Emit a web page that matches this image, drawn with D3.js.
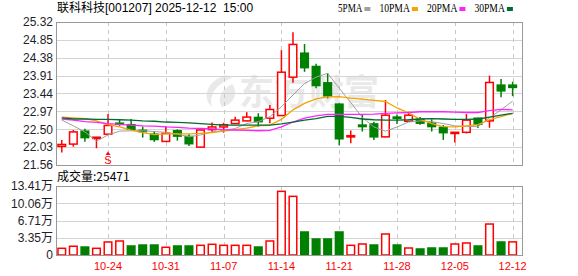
<!DOCTYPE html>
<html>
<head>
<meta charset="utf-8">
<script src="https://cdn.jsdelivr.net/npm/d3@7"></script>
<style>
  html, body { margin: 0; padding: 0; background: #fff; }
  svg { display: block; }
  text { font-family: "Liberation Sans", Arial, "Noto Sans CJK SC", sans-serif; }
</style>
</head>
<body>
<svg id="chart" width="578" height="276"></svg>
<script>
// trading days shown (2025)
const dates = [
  '10-20', '10-21', '10-22', '10-23', '10-24',
  '10-27', '10-28', '10-29', '10-30', '10-31',
  '11-03', '11-04', '11-05', '11-06', '11-07',
  '11-10', '11-11', '11-12', '11-13', '11-14',
  '11-17', '11-18', '11-19', '11-20', '11-21',
  '11-24', '11-25', '11-26', '11-27', '11-28',
  '12-01', '12-02', '12-03', '12-04', '12-05',
  '12-08', '12-09', '12-10', '12-11', '12-12'
];
const opens = [22.05, 22.11, 22.45, 22.27, 22.37, 22.66, 22.62, 22.47, 22.37, 22.18,
  22.46, 22.31, 22.03, 22.49, 22.56, 22.65, 22.72, 22.81, 22.79, 22.86,
  23.87, 24.50, 24.15, 23.72, 23.16, 22.31, 22.61, 22.64, 22.30, 22.82,
  22.71, 22.76, 22.66, 22.55, 22.40, 22.42, 22.79, 22.72, 23.66, 23.66];
const highs = [22.22, 22.48, 22.51, 22.30, 22.90, 22.76, 22.77, 22.57, 22.45, 22.57,
  22.50, 22.37, 22.49, 22.68, 22.67, 22.83, 22.95, 22.92, 23.14, 24.58,
  25.05, 24.74, 24.22, 23.97, 23.18, 22.47, 22.90, 22.70, 23.27, 22.89,
  22.96, 22.82, 22.76, 22.61, 22.43, 22.90, 22.80, 23.91, 23.82, 23.75];
const lows = [21.89, 22.04, 22.17, 22.00, 22.36, 22.59, 22.49, 22.28, 22.17, 22.17,
  22.20, 22.06, 22.02, 22.41, 22.41, 22.64, 22.71, 22.57, 22.66, 22.85,
  23.72, 24.01, 23.58, 23.31, 22.08, 22.13, 22.44, 22.22, 22.29, 22.64,
  22.70, 22.62, 22.44, 22.22, 22.15, 22.39, 22.53, 22.54, 23.34, 23.37];
const closes = [22.10, 22.43, 22.28, 22.29, 22.60, 22.64, 22.50, 22.45, 22.23, 22.39,
  22.32, 22.12, 22.48, 22.56, 22.62, 22.74, 22.82, 22.70, 23.02, 24.00,
  24.73, 24.12, 23.65, 23.38, 22.25, 22.33, 22.57, 22.30, 22.87, 22.80,
  22.87, 22.66, 22.57, 22.41, 22.42, 22.74, 22.63, 23.73, 23.51, 23.60];
const volumes = [13000, 17000, 15500, 13000, 25300, 27200, 17500, 19400, 19400, 15000,
  17500, 17500, 18800, 20800, 18800, 18800, 18800, 15500, 27200, 123700,
  114000, 44700, 31100, 31100, 44700, 18800, 21400, 19400, 40800, 19400,
  13600, 11700, 13600, 13600, 21400, 23300, 17500, 60200, 25300, 25471];

// moving averages as drawn
const ma5 = [22.74, 22.59, 22.43, 22.19, 22.35, 22.45, 22.46, 22.46, 22.44, 22.42,
  22.37, 22.30, 22.35, 22.43, 22.47, 22.52, 22.65, 22.70, 22.83, 23.09,
  23.40, 23.70, 23.87, 23.97, 23.58, 23.20, 22.81, 22.56, 22.45, 22.56,
  22.69, 22.72, 22.70, 22.65, 22.59, 22.57, 22.57, 22.80, 23.01, 23.24];
const ma10 = [22.82, 22.80, 22.78, 22.72, 22.62, 22.56, 22.48, 22.41, 22.36, 22.38,
  22.38, 22.38, 22.39, 22.41, 22.45, 22.49, 22.53, 22.59, 22.61, 22.76,
  23.01, 23.18, 23.30, 23.35, 23.36, 23.32, 23.29, 23.26, 23.23, 23.06,
  22.93, 22.76, 22.65, 22.57, 22.56, 22.59, 22.62, 22.75, 22.83, 22.92];
const ma20 = [22.77, 22.74, 22.70, 22.68, 22.65, 22.63, 22.61, 22.59, 22.58, 22.56,
  22.55, 22.53, 22.52, 22.51, 22.49, 22.48, 22.47, 22.46, 22.47, 22.56,
  22.69, 22.79, 22.85, 22.89, 22.89, 22.89, 22.89, 22.90, 22.92, 22.93,
  22.94, 22.96, 22.96, 22.96, 22.95, 22.94, 22.94, 22.99, 23.02, 23.01];
const ma30 = [22.80, 22.77, 22.77, 22.76, 22.76, 22.75, 22.74, 22.72, 22.71, 22.69,
  22.68, 22.67, 22.65, 22.63, 22.61, 22.61, 22.61, 22.61, 22.61, 22.64,
  22.69, 22.74, 22.78, 22.84, 22.84, 22.81, 22.77, 22.75, 22.74, 22.74,
  22.75, 22.77, 22.78, 22.77, 22.76, 22.76, 22.77, 22.82, 22.87, 22.92];

const priceTicks = [21.56, 22.03, 22.50, 22.97, 23.44, 23.91, 24.38, 24.85, 25.32];
const volTicks = [0, 33525, 67050, 100575, 134100];
const volTickLabels = ['0', '3.35万', '6.71万', '10.06万', '13.41万'];
const dateTicks = ['10-24', '10-31', '11-07', '11-14', '11-21', '11-28', '12-05', '12-12'];
const maNames = ['5PMA', '10PMA', '20PMA', '30PMA'];
const maColors = ['#a0a0a0', '#f5a300', '#ff22ff', '#006b33'];
const signalDates = ['10-24'];
const signalLabels = ['S'];

const title = '联科科技[001207] 2025-12-12  15:00';
const lastVolume = 25471;

const RED = '#ff0000';
const GREEN = '#008000';
const left = 56, right = 522;
const pTop = 22, pBottom = 165;
const vTop = 186, vBottom = 255;

const svg = d3.select('#chart');
svg.append('rect').attr('width', 578).attr('height', 276).attr('fill', '#fff');

const x = d3.scaleBand().domain(dates).range([left, left + dates.length * 11.56]);
const cx = d => x(d) + x.bandwidth() / 2;
const y = d3.scaleLinear().domain([21.56, 25.32]).range([pBottom, pTop]);
const yv = d3.scaleLinear().domain([0, 134100]).range([vBottom, vTop]);
const bodyW = 7.6;

// watermark
const wm = svg.append('g').attr('fill', '#e9e9e9');
wm.append('path')
  .attr('d', 'M226 75 C208 80 201 97 212 107 C209 96 214 85 232 78 Z M232 84 C220 90 217 100 222 107 C236 103 238 92 232 84 Z');
wm.append('text')
  .attr('x', 239).attr('y', 105)
  .attr('font-size', 35).attr('font-weight', 700)
  .style('font-family', '"Noto Sans CJK SC", sans-serif')
  .text('东方财富');

// ---- price panel ----
const grid = svg.append('g');
grid.selectAll('line.h')
  .data(priceTicks.slice(1, -1))
  .join('line')
  .attr('x1', left).attr('x2', right)
  .attr('y1', d => Math.round(y(d)) + 0.5).attr('y2', d => Math.round(y(d)) + 0.5)
  .attr('stroke', '#d4d4d4');
grid.selectAll('line.hv')
  .data(volTicks.slice(1, -1))
  .join('line')
  .attr('x1', left).attr('x2', right)
  .attr('y1', d => Math.round(yv(d)) + 0.5).attr('y2', d => Math.round(yv(d)) + 0.5)
  .attr('stroke', '#d4d4d4');
[[pTop, pBottom], [vTop, vBottom]].forEach(([t, b]) => {
  svg.append('g').selectAll('line')
    .data(dateTicks)
    .join('line')
    .attr('x1', d => Math.round(cx(d)) + 0.5).attr('x2', d => Math.round(cx(d)) + 0.5)
    .attr('y1', t).attr('y2', b)
    .attr('stroke', '#c8c8c8')
    .attr('stroke-dasharray', '4,4');
});

// candles
const candles = svg.append('g');
dates.forEach((d, i) => {
  const up = closes[i] >= opens[i];
  const color = up ? RED : GREEN;
  const g = candles.append('g');
  g.append('line')
    .attr('x1', cx(d)).attr('x2', cx(d))
    .attr('y1', y(highs[i])).attr('y2', y(lows[i]))
    .attr('stroke', color).attr('stroke-width', 1.5);
  const top = y(Math.max(opens[i], closes[i]));
  const h = Math.max(1.2, y(Math.min(opens[i], closes[i])) - top);
  g.append('rect')
    .attr('x', cx(d) - bodyW / 2).attr('y', top)
    .attr('width', bodyW).attr('height', h)
    .attr('fill', up ? '#fff' : GREEN)
    .attr('stroke', color).attr('stroke-width', 1.5);
});

// moving average lines
const maSeries = [ma5, ma10, ma20, ma30];
const line = d3.line().x((v, i) => cx(dates[i])).y(v => y(v));
maSeries.forEach((s, k) => {
  svg.append('path')
    .datum(s)
    .attr('fill', 'none')
    .attr('stroke', maColors[k])
    .attr('stroke-width', k === 0 ? 1 : 1.3)
    .attr('d', line);
});

// signal marker
signalDates.forEach((d, k) => {
  const i = dates.indexOf(d);
  const ty = y(lows[i]) + 17;
  svg.append('path')
    .attr('d', `M${cx(d)},${ty} l-2.5,3.5 h5 Z`)
    .attr('fill', RED);
  svg.append('text')
    .attr('x', cx(d)).attr('y', ty + 12)
    .attr('text-anchor', 'middle')
    .attr('font-size', 11)
    .attr('fill', RED)
    .text(signalLabels[k]);
});

// ---- volume panel ----
svg.append('g').selectAll('rect')
  .data(dates)
  .join('rect')
  .attr('x', d => cx(d) - bodyW / 2)
  .attr('y', (d, i) => yv(volumes[i]))
  .attr('width', bodyW)
  .attr('height', (d, i) => vBottom - yv(volumes[i]))
  .attr('fill', (d, i) => (i === 0 || closes[i] >= closes[i - 1]) ? '#fff' : GREEN)
  .attr('stroke', (d, i) => (i === 0 || closes[i] >= closes[i - 1]) ? RED : GREEN)
  .attr('stroke-width', 1.5);

// frames
[[pTop, pBottom], [vTop, vBottom]].forEach(([t, b]) => {
  svg.append('rect')
    .attr('x', left + 0.5).attr('y', t + 0.5)
    .attr('width', right - left).attr('height', b - t)
    .attr('fill', 'none')
    .attr('stroke', '#999');
});

// axes
const yAxis = svg.append('g')
  .attr('transform', `translate(${left},0)`)
  .call(d3.axisLeft(y).tickValues(priceTicks).tickFormat(d3.format('.2f')).tickSize(0).tickPadding(3));
const vAxis = svg.append('g')
  .attr('transform', `translate(${left},0)`)
  .call(d3.axisLeft(yv).tickValues(volTicks).tickFormat((d, i) => volTickLabels[i]).tickSize(0).tickPadding(3));
const xAxis = svg.append('g')
  .attr('transform', `translate(0,${vBottom})`)
  .call(d3.axisBottom(x).tickValues(dateTicks).tickSize(0).tickPadding(7));
[yAxis, vAxis].forEach(a => {
  a.select('.domain').remove();
  a.selectAll('text')
    .attr('font-size', 12)
    .attr('fill', '#1e1e28')
    .style('font-family', '"Liberation Sans", "Noto Sans CJK SC", sans-serif');
});
xAxis.select('.domain').remove();
xAxis.selectAll('text')
  .attr('font-size', 11)
  .attr('fill', RED)
  .style('font-family', '"Liberation Sans", sans-serif');

// header
svg.append('text')
  .attr('x', 57).attr('y', 12)
  .attr('font-size', 12)
  .attr('fill', '#000')
  .style('white-space', 'pre')
  .style('font-family', '"Liberation Sans", "Noto Sans CJK SC", sans-serif')
  .text(title);

const legend = svg.append('g');
let lx = 338;
maNames.forEach((name, k) => {
  legend.append('text')
    .attr('x', lx).attr('y', 12)
    .attr('font-size', 12)
    .attr('textLength', name.length * 6.1)
    .attr('lengthAdjust', 'spacingAndGlyphs')
    .attr('fill', '#000')
    .style('font-family', '"Liberation Serif", serif')
    .text(name);
  lx += name.length * 6.1 + 2;
  legend.append('rect')
    .attr('x', lx).attr('y', 7).attr('width', 6).attr('height', 4)
    .attr('fill', maColors[k]);
  lx += 15;
});

svg.append('text')
  .attr('x', 57).attr('y', 181)
  .attr('font-size', 12)
  .attr('fill', '#000')
  .style('font-family', '"Noto Sans CJK SC", "Liberation Sans", sans-serif')
  .text('成交量:' + lastVolume);
</script>
</body>
</html>
